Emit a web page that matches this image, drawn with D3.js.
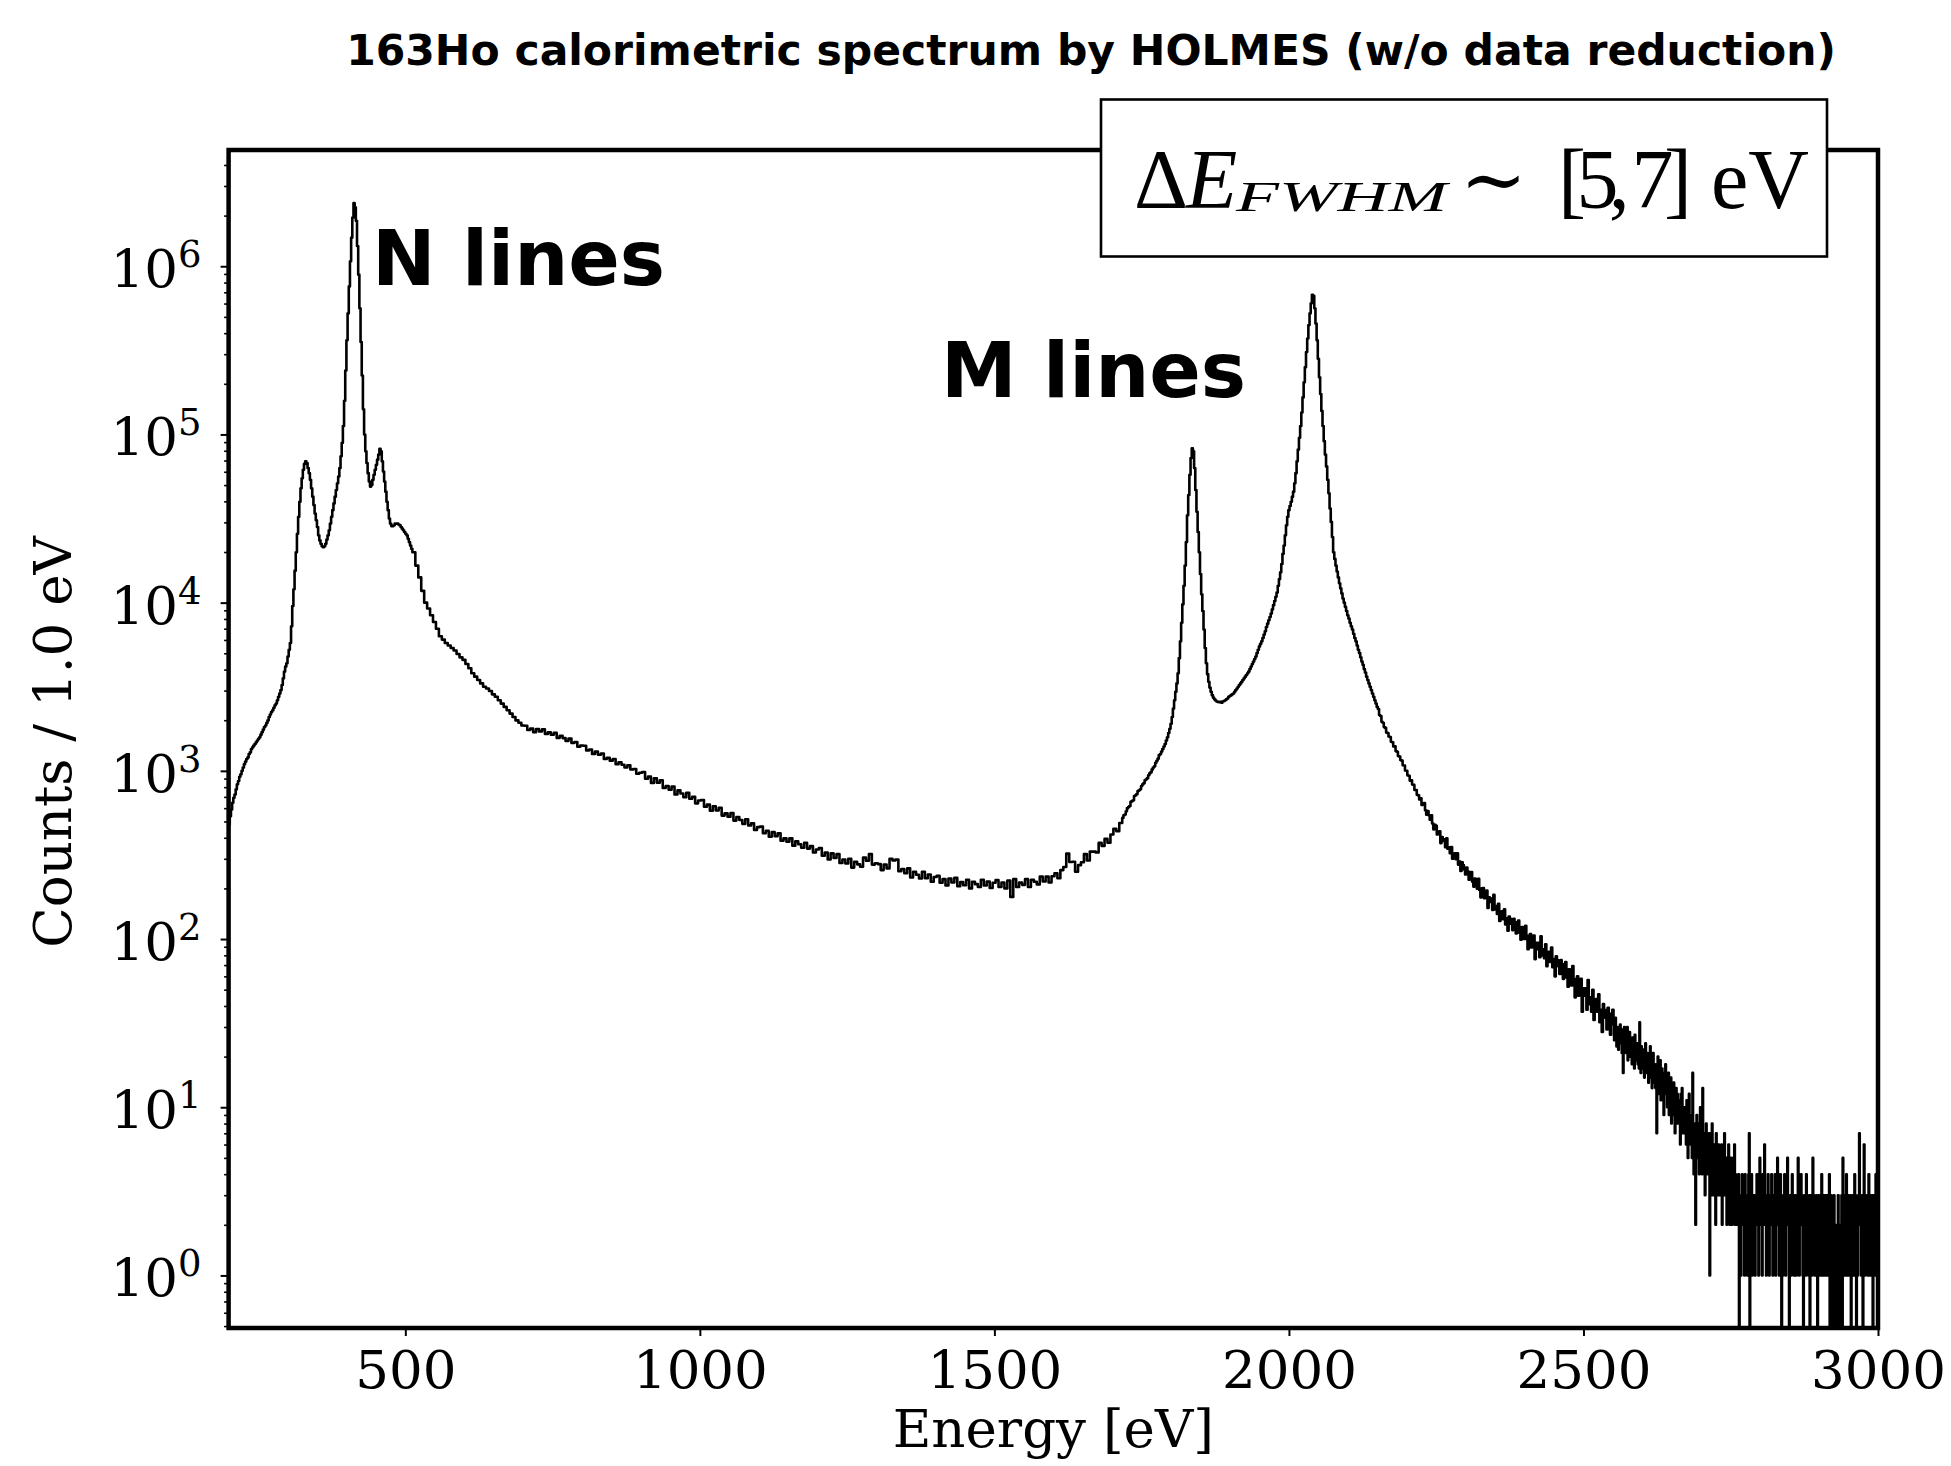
<!DOCTYPE html>
<html>
<head>
<meta charset="utf-8">
<script src="https://cdn.jsdelivr.net/npm/d3@7"></script>
<style>
  html, body { margin: 0; padding: 0; background: #ffffff; }
  svg { display: block; }
</style>
</head>
<body>
<svg id="chart" width="1951" height="1466"></svg>
<script>
// ---------------- DATA (counts per 1.0 eV bin) ----------------
// N-lines region: 200 .. 510 eV, every 2 eV
const nLinesStart = 200, nLinesStep = 2;
const nLinesCounts = [
  479, 537, 589, 646, 692, 724, 776, 832, 871, 923,
  955, 1000, 1047, 1096, 1135, 1175, 1202, 1259, 1288, 1349,
  1380, 1413, 1445, 1479, 1514, 1549, 1585, 1641, 1698, 1758,
  1820, 1862, 1928, 1995, 2089, 2163, 2239, 2291, 2371, 2455,
  2512, 2630, 2754, 2884, 3020, 3236, 3548, 3890, 4169, 4365,
  4786, 5248, 5754, 7244, 9550, 12020, 15490, 19950, 25700, 32360,
  39810, 47860, 54950, 61660, 66830, 69180, 67610, 63100, 58880, 53700,
  47860, 42660, 38020, 33880, 30900, 28180, 25120, 23440, 22390, 21630,
  21380, 21630, 22390, 23710, 25120, 26920, 29510, 32360, 35480, 38900,
  42660, 46770, 51290, 56230, 63100, 74130, 89130, 112200, 158500, 239900,
  363100, 524800, 758600, 1071500, 1479100, 1949800, 2371400, 2238700, 1862100, 1318300,
  891300, 562300, 354800, 223900, 141300, 100000, 79430, 67610, 58880, 52480,
  48980, 50120, 53700, 57540, 61660, 66070, 70800, 75860, 82220, 79430,
  69180, 60260, 52480, 45710, 39810, 35480, 31620, 29510, 28510, 28510,
  28840, 29510, 29510, 29510, 29170, 28840, 28180, 27540, 26920, 26300,
  25700, 25120, 23990, 22910, 21880, 20890
];
// Continuum between the N and M lines: 512 .. 1712 eV, every 5 eV
const continuumStart = 512, continuumStep = 5;
const continuumCounts = [
  19950, 16600, 14130, 11750, 10000, 9230, 8410, 7670, 7000, 6310,
  6030, 5750, 5560, 5370, 5190, 4955, 4730, 4570, 4315, 4075,
  3800, 3630, 3470, 3310, 3160, 3090, 2985, 2850, 2755, 2630,
  2510, 2400, 2290, 2190, 2090, 1995, 1930, 1860,
  1855, 1749, 1783, 1698, 1775, 1716, 1763, 1658, 1693, 1640,
  1681, 1567, 1614, 1565, 1504, 1555, 1465, 1484, 1392, 1416,
  1410, 1323, 1338, 1261, 1301, 1246, 1267, 1178, 1194, 1150,
  1177, 1094, 1125, 1088, 1047, 1079, 1018, 1025, 960, 975,
  984, 897, 924, 848, 902, 850, 880, 790, 813, 772,
  807, 724, 765, 733, 696, 740, 682, 702, 641, 666,
  670, 612, 630, 579, 616, 581, 603, 542, 559, 534,
  561, 506, 532, 510, 484, 515, 474, 488, 445, 463,
  466, 426, 440, 406, 432, 409, 425, 384, 397, 379,
  397, 359, 381, 366, 349, 373, 345, 357, 327, 341,
  348, 313, 327, 297, 323, 303, 320, 283, 297, 281,
  300, 266, 288, 278, 269, 305, 292, 320, 277, 282,
  279, 257, 277, 263, 300, 293, 297, 253, 261, 246,
  263, 232, 251, 241, 229, 251, 230, 242, 219, 234,
  238, 216, 227, 208, 229, 217, 231, 206, 218, 209,
  225, 200, 219, 212, 204, 225, 208, 220, 201, 216,
  224, 204, 217, 200, 223, 178, 227, 204, 217, 210,
  227, 204, 225, 219, 211, 235, 220, 235, 217, 236,
  246, 230, 257, 268, 322, 287, 288, 251, 275, 286,
  320, 293, 331, 331, 327, 373, 358, 394, 374, 418,
  452, 437, 490
];
// M-lines region: 1717 .. 2221 eV, every 2 eV
const mLinesStart = 1717, mLinesStep = 2;
const mLinesCounts = [
  525, 545, 550, 575, 600, 610, 618, 655, 661, 668,
  708, 716, 728, 758, 767, 778, 812, 832, 845, 880,
  891, 905, 942, 966, 982, 1020, 1047, 1065, 1118, 1148,
  1182, 1240, 1259, 1303, 1349, 1396, 1445, 1514, 1585, 1679,
  1778, 1905, 2089, 2344, 2630, 2951, 3311, 3802, 4677, 5888,
  7586, 9772, 12590, 16600, 22910, 33110, 43650, 57540, 72440, 82600,
  79430, 63100, 46770, 34670, 26300, 19950, 14790, 11220, 8913, 6918,
  5370, 4365, 3758, 3388, 3126, 2951, 2818, 2723, 2661, 2618,
  2582, 2570, 2559, 2570, 2541, 2582, 2600, 2630, 2661, 2692,
  2754, 2786, 2818, 2851, 2884, 2951, 3020, 3090, 3162, 3236,
  3311, 3388, 3467, 3548, 3631, 3715, 3802, 3890, 4027, 4169,
  4315, 4467, 4624, 4786, 5012, 5248, 5495, 5689, 5888, 6166,
  6457, 6761, 7161, 7499, 7852, 8222, 8610, 9120, 9661, 10230,
  10840, 11480, 12590, 13800, 15140, 16980, 19500, 21880, 25120, 28840,
  32360, 35480, 37580, 39810, 42660, 45710, 51290, 58880, 69180, 81280,
  95500, 112200, 134900, 166000, 204200, 251200, 309000, 371500, 446700, 524800,
  602600, 676100, 668300, 562300, 457100, 363100, 281800, 218800, 173800, 138000,
  112200, 91200, 75860, 64570, 53700, 44670, 36310, 30200, 24550, 19950,
  18200, 16600, 15310, 14130, 13030, 12160, 11350, 10590, 10000, 9441,
  8913, 8414, 8035, 7586, 7244, 6918, 6531, 6166, 5888, 5559,
  5248, 5012, 4732, 4467, 4266, 4027, 3846, 3631, 3467, 3311,
  3162, 3020, 2884, 2754, 2630, 2512, 2399, 2330, 2150, 2120,
  1960, 1930, 1820, 1800, 1690, 1680, 1600, 1590, 1490, 1480,
  1395, 1400, 1310, 1300, 1225, 1215, 1160, 1150, 1080, 1075,
  1005, 1000, 940, 935, 875, 880, 830, 825, 770, 768,
  720, 715, 676
];
// Falling tail: 2223 .. 2549 eV, every 2 eV
const tailStart = 2223, tailStep = 2;
const tailCounts = [
  686, 627, 636, 643, 583, 549, 577, 544, 512, 545,
  487, 449, 477, 471, 418, 425, 437, 372, 404, 383,
  392, 351, 397, 344, 351, 324, 352, 300, 319, 323,
  298, 323, 277, 289, 254, 286, 275, 259, 242, 266,
  253, 225, 237, 250, 219, 205, 229, 213, 199, 228,
  196, 177, 200, 201, 175, 182, 194, 153, 177, 166,
  174, 149, 183, 150, 157, 141, 162, 128, 141, 146,
  131, 150, 122, 133, 112, 136, 132, 123, 113, 132,
  126, 108, 118, 129, 109, 99, 118, 109, 100, 120,
  100, 87, 105, 107, 89, 95, 105, 76, 95, 87,
  95, 78, 104, 80, 87, 77, 93, 69, 80, 84,
  73, 89, 68, 76, 60, 79, 75, 69, 62, 75,
  71, 58, 66, 73, 59, 52, 66, 60, 53, 69,
  54, 45, 58, 60, 46, 51, 58, 37, 51, 46,
  51, 38, 57, 41, 45, 37, 50, 33, 40, 44,
  37, 47, 32, 38, 28, 41, 38, 34, 29, 39,
  36, 27, 32, 38
];
// End-point region: 2551 .. 3000 eV, every 1 eV (integer counts, 0 = empty bin)
const endpointStart = 2551, endpointStep = 1;
const endpointCounts = [
  31, 25, 29, 34, 27, 23, 30, 28, 22, 29,
  26, 31, 24, 27, 21, 29, 16, 25, 30, 23,
  27, 21, 25, 30, 19, 24, 22, 28, 20, 26,
  23, 18, 26, 21, 24, 17, 27, 20, 22, 19,
  24, 18, 21, 17, 32, 20, 16, 23, 19, 22,
  17, 22, 15, 20, 24, 18, 16, 21, 19, 14,
  20, 16, 23, 15, 18, 13, 19, 21, 14, 17,
  18, 13, 16, 7, 17, 20, 14, 12, 16, 19,
  11, 15, 17, 12, 14, 9, 16, 13, 18, 12,
  14, 10, 13, 16, 9, 12, 11, 15, 8, 13,
  12, 9, 14, 11, 7, 10, 13, 8, 12, 11,
  8, 11, 10, 6, 12, 9, 13, 7, 10, 9,
  10, 7, 9, 6, 11, 8, 5, 9, 12, 7,
  8, 6, 9, 5, 16, 7, 4, 8, 6, 2,
  7, 9, 5, 6, 8, 4, 7, 10, 5, 6,
  4, 13, 6, 5, 7, 3, 6, 8, 4, 5,
  6, 4, 7, 1, 5, 6, 3, 8, 4, 5,
  3, 6, 5, 2, 7, 4, 5, 3, 6, 4,
  5, 3, 4, 6, 2, 4, 5, 3, 7, 4,
  3, 5, 2, 4, 3, 6, 4, 2, 3, 5,
  4, 2, 3, 5, 3, 6, 2, 4, 3, 2,
  3, 2, 4, 0, 3, 2, 1, 3, 4, 2,
  2, 3, 1, 4, 2, 3, 2, 1, 3, 4,
  7, 0, 3, 2, 4, 1, 3, 2, 3, 2,
  1, 3, 2, 4, 2, 3, 1, 2, 5, 3,
  2, 3, 1, 4, 3, 2, 6, 2, 3, 1,
  3, 2, 4, 2, 1, 3, 2, 3, 4, 2,
  1, 3, 2, 2, 4, 1, 3, 2, 5, 2,
  3, 1, 2, 4, 3, 0, 2, 1, 3, 2,
  4, 2, 1, 3, 2, 5, 2, 3, 0, 2,
  3, 1, 2, 4, 2, 3, 1, 2, 3, 2,
  1, 3, 2, 5, 2, 1, 3, 2, 4, 2,
  3, 1, 0, 2, 3, 2, 1, 4, 2, 3,
  2, 1, 3, 0, 2, 3, 1, 2, 5, 2,
  3, 1, 2, 2, 3, 1, 0, 2, 3, 2,
  1, 3, 2, 4, 1, 2, 3, 1, 2, 3,
  2, 1, 3, 2, 1, 2, 4, 0, 1, 3,
  0, 2, 1, 0, 3, 1, 2, 0, 1, 2,
  0, 3, 1, 1, 0, 2, 1, 3, 0, 5,
  2, 1, 3, 2, 1, 4, 2, 1, 3, 2,
  1, 2, 3, 0, 2, 1, 3, 2, 1, 4,
  2, 3, 0, 2, 1, 3, 2, 7, 2, 3,
  1, 2, 3, 0, 2, 6, 1, 3, 2, 2,
  3, 1, 2, 4, 1, 2, 3, 1, 2, 3,
  0, 2, 3, 1, 2, 4, 2, 1, 3, 2
];

const xDomain = [200, 3000];
const yDomain = [0.487, 4.91e6];
const xTickValues = [500, 1000, 1500, 2000, 2500, 3000];
const yTickExponents = [0, 1, 2, 3, 4, 5, 6];
const titleText = "163Ho calorimetric spectrum by HOLMES (w/o data reduction)";
const xLabelText = "Energy [eV]";
const yLabelText = "Counts / 1.0 eV";
const nLabelText = "N lines";
const mLabelText = "M lines";

// ---------------- LAYOUT ----------------
const plot = { left: 228.6, right: 1878, top: 150, bottom: 1328 };
const svg = d3.select("#chart");

const x = d3.scaleLinear().domain(xDomain).range([plot.left, plot.right]);
const y = d3.scaleLog().domain(yDomain).range([plot.bottom, plot.top]);

const segments = [
  [nLinesStart, nLinesStep, nLinesCounts],
  [continuumStart, continuumStep, continuumCounts],
  [mLinesStart, mLinesStep, mLinesCounts],
  [tailStart, tailStep, tailCounts],
  [endpointStart, endpointStep, endpointCounts]
];
const points = [];
segments.forEach(([start, step, arr]) => {
  arr.forEach((c, i) => points.push({ e: start + i * step, c: c }));
});

svg.append("defs").append("clipPath").attr("id", "plotclip")
  .append("rect")
  .attr("x", plot.left).attr("y", plot.top)
  .attr("width", plot.right - plot.left).attr("height", plot.bottom - plot.top);

const line = d3.line()
  .x(d => x(d.e))
  .y(d => d.c > 0 ? y(d.c) : plot.bottom + 40)
  .curve(d3.curveStepAfter);

svg.append("path")
  .datum(points)
  .attr("clip-path", "url(#plotclip)")
  .attr("d", line)
  .attr("fill", "none")
  .attr("stroke", "#000")
  .attr("stroke-width", 2.6)
  .attr("stroke-linejoin", "round");

// ---------------- AXES ----------------
const serif = "'DejaVu Serif', serif";
const sans = "'DejaVu Sans', sans-serif";

const gx = svg.append("g").attr("transform", `translate(0,${plot.bottom})`)
  .call(d3.axisBottom(x).tickValues(xTickValues).tickSize(8).tickPadding(14).tickFormat(d3.format("d")));
gx.select(".domain").remove();
gx.selectAll(".tick line").attr("stroke", "#000").attr("stroke-width", 2);
gx.selectAll(".tick text").attr("font-family", serif).attr("font-size", 53).attr("fill", "#000");

// minor log ticks
const minorVals = [];
for (let k = -1; k <= 6; k++) {
  for (let m = 2; m <= 9; m++) {
    const v = m * Math.pow(10, k);
    if (v >= yDomain[0] && v <= yDomain[1]) minorVals.push(v);
  }
}
const gyMinor = svg.append("g").attr("transform", `translate(${plot.left},0)`)
  .call(d3.axisLeft(y).tickValues(minorVals).tickSize(4.5).tickFormat(""));
gyMinor.select(".domain").remove();
gyMinor.selectAll(".tick line").attr("stroke", "#000").attr("stroke-width", 1.6);

const gy = svg.append("g").attr("transform", `translate(${plot.left},0)`)
  .call(d3.axisLeft(y).tickValues(yTickExponents.map(k => Math.pow(10, k))).tickSize(8).tickPadding(19).tickFormat(""));
gy.select(".domain").remove();
gy.selectAll(".tick line").attr("stroke", "#000").attr("stroke-width", 2);
gy.selectAll(".tick").each(function(d, i) {
  const t = d3.select(this).select("text");
  t.attr("font-family", serif).attr("font-size", 53).attr("fill", "#000")
    .attr("text-anchor", "end").attr("x", -27).attr("dy", null).attr("y", 20.5);
  t.append("tspan").text("10");
  t.append("tspan").attr("font-size", 37).attr("dy", -20).text(String(yTickExponents[i]));
});

// spines
svg.append("rect")
  .attr("x", plot.left).attr("y", plot.top)
  .attr("width", plot.right - plot.left).attr("height", plot.bottom - plot.top)
  .attr("fill", "none").attr("stroke", "#000").attr("stroke-width", 4.5);

// axis labels
svg.append("text").attr("x", (plot.left + plot.right) / 2).attr("y", 1447)
  .attr("text-anchor", "middle").attr("font-family", serif).attr("font-size", 53)
  .text(xLabelText);
svg.append("text").attr("transform", "translate(71,742) rotate(-90)")
  .attr("text-anchor", "middle").attr("font-family", serif).attr("font-size", 53)
  .text(yLabelText);

// title
svg.append("text").attr("x", 1091).attr("y", 65)
  .attr("text-anchor", "middle").attr("font-family", sans).attr("font-weight", "bold")
  .attr("font-size", 42.5).text(titleText);

// annotations
svg.append("text").attr("x", 372).attr("y", 285)
  .attr("font-family", sans).attr("font-weight", "bold").attr("font-size", 76)
  .text(nLabelText);
svg.append("text").attr("x", 941).attr("y", 397)
  .attr("font-family", sans).attr("font-weight", "bold").attr("font-size", 76)
  .text(mLabelText);

// resolution box
const box = { x: 1101, y: 99.5, w: 726, h: 157 };
svg.append("rect").attr("x", box.x).attr("y", box.y).attr("width", box.w).attr("height", box.h)
  .attr("fill", "#fff").attr("stroke", "#000").attr("stroke-width", 2.6);
const mathFont = "'Liberation Serif', 'DejaVu Serif', serif";
const bt = svg.append("g").attr("font-family", mathFont).attr("fill", "#000");
bt.append("text").attr("x", 1134).attr("y", 208).attr("font-size", 84).text("\u0394");
bt.append("text").attr("x", 1186).attr("y", 208).attr("font-size", 84).attr("font-style", "italic").text("E");
bt.append("text").attr("x", 1236).attr("y", 211).attr("font-size", 42).attr("font-style", "italic")
  .attr("textLength", 211).attr("lengthAdjust", "spacingAndGlyphs").text("FWHM");
bt.append("text").attr("x", 1460).attr("y", 207).attr("font-size", 80).attr("font-family", "'DejaVu Serif', serif")
  .text("\u223C");
bt.append("text").attr("x", 1558).attr("y", 208).attr("font-size", 84)
  .attr("textLength", 134).attr("lengthAdjust", "spacing").text("[5, 7]");
bt.append("text").attr("x", 1711).attr("y", 208).attr("font-size", 84).text("eV");
</script>
</body>
</html>
